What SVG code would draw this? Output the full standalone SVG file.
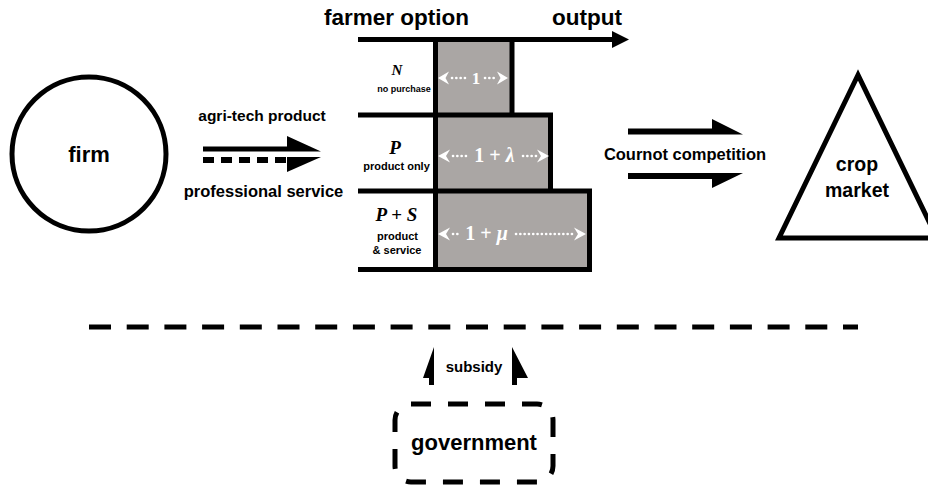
<svg xmlns="http://www.w3.org/2000/svg" width="928" height="485" viewBox="0 0 928 485">
  <style>
    .lbl { font-family: "Liberation Sans", Arial, sans-serif; font-weight: bold; fill: #000; text-anchor: middle; }
    .math { font-family: "Liberation Serif", "Times New Roman", serif; font-weight: bold; font-style: italic; fill: #000; text-anchor: middle; }
    .wmath { font-family: "Liberation Serif", "Times New Roman", serif; font-weight: bold; fill: #fff; text-anchor: middle; }
    .thick { fill: none; stroke: #000; stroke-width: 5; stroke-linejoin: miter; }
    .bar { fill: #aaa6a4; }
    .dots { fill: none; stroke: #fff; stroke-width: 2.6; stroke-linecap: round; stroke-dasharray: 0.1 4.2; }
    .whead { fill: #fff; }
    .ink { fill: #000; }
  </style>

  <!-- firm -->
  <g id="firm">
    <circle cx="89" cy="154" r="77" class="thick"/>
    <text x="89" y="162" class="lbl" font-size="22">firm</text>
  </g>

  <!-- farmer option chart -->
  <g id="farmer-options">
    <rect class="bar" x="435" y="39" width="77" height="76"/>
    <rect class="bar" x="435" y="115" width="115.5" height="76"/>
    <rect class="bar" x="435" y="191" width="154.5" height="78.5"/>

    <path class="thick" d="M358,39.5 H614"/>
    <polygon class="ink" points="612,31 629,39.5 612,48"/>
    <path class="thick" d="M435.5,37 V272"/>
    <path class="thick" d="M512,39.5 V115"/>
    <path class="thick" d="M358,115 H550.5 V191"/>
    <path class="thick" d="M358,191 H589.5 V269.5 H358"/>

    <text x="396.5" y="25" class="lbl" font-size="22.5">farmer option</text>
    <text x="587" y="25" class="lbl" font-size="22.5">output</text>

    <!-- N row -->
    <text x="397" y="75" class="math" font-size="15">N</text>
    <text x="404" y="92" class="lbl" font-size="9">no purchase</text>
    <path class="whead" d="M438,78 L449,71.5 L445.5,78 L449,84.5 Z"/>
    <path class="dots" d="M452,78 H468"/>
    <text x="476" y="84" class="wmath" font-size="17">1</text>
    <path class="dots" d="M485,78 H497"/>
    <path class="whead" d="M508,78 L497,71.5 L500.5,78 L497,84.5 Z"/>

    <!-- P row -->
    <text x="395" y="154" class="math" font-size="19">P</text>
    <text x="396.5" y="170" class="lbl" font-size="11">product only</text>
    <path class="whead" d="M438,156 L450,149.5 L446,156 L450,162.5 Z"/>
    <path class="dots" d="M453,156 H467"/>
    <text x="494.5" y="162" class="wmath" font-size="20">1 + <tspan font-style="italic">λ</tspan></text>
    <path class="dots" d="M523,156 H536"/>
    <path class="whead" d="M549,156 L537,149.5 L541,156 L537,162.5 Z"/>

    <!-- P + S row -->
    <text x="396.5" y="221" class="math" font-size="19">P <tspan font-style="normal">+</tspan> S</text>
    <text x="397.5" y="240" class="lbl" font-size="11">product</text>
    <text x="397" y="254" class="lbl" font-size="11">&amp; service</text>
    <path class="whead" d="M438,234 L450,227.5 L446,234 L450,240.5 Z"/>
    <path class="dots" d="M453,234 H460"/>
    <text x="486.5" y="240" class="wmath" font-size="20">1 + <tspan font-style="italic">μ</tspan></text>
    <path class="dots" d="M516,234 H573"/>
    <path class="whead" d="M586,234 L574,227.5 L578,234 L574,240.5 Z"/>
  </g>

  <!-- crop market -->
  <g id="crop-market">
    <polygon points="858,75 779,238 937,238" class="thick"/>
    <text x="857" y="171" class="lbl" font-size="19.5">crop</text>
    <text x="857" y="197" class="lbl" font-size="19.5">market</text>
  </g>

  <!-- government -->
  <g id="government">
    <rect x="395" y="404" width="158" height="78" rx="16" ry="16" fill="none" stroke="#000" stroke-width="5" stroke-dasharray="20 17"/>
    <text x="474" y="450" class="lbl" font-size="22">government</text>
  </g>

  <!-- separator -->
  <g id="separator">
    <path d="M89,327 H858" fill="none" stroke="#000" stroke-width="5" stroke-dasharray="22 15.7"/>
  </g>

  <!-- connectors -->
  <g id="connectors">
    <!-- agri-tech product (solid) and professional service (dashed) -->
    <path class="ink" d="M203,146.5 L287,146.5 L287,136 L321,151.5 L203,151.5 Z"/>
    <path d="M203,160 H288" fill="none" stroke="#000" stroke-width="6" stroke-dasharray="11 7"/>
    <path class="ink" d="M287,157 L321,157 L287,172 Z"/>
    <text x="262" y="121" class="lbl" font-size="15.5">agri-tech product</text>
    <text x="263.5" y="197" class="lbl" font-size="16.5">professional service</text>

    <!-- Cournot competition -->
    <path class="ink" d="M628,128.5 L712,128.5 L712,119 L743,134.5 L628,134.5 Z"/>
    <path class="ink" d="M628,173 L743,173 L712,188 L712,179 L628,179 Z"/>
    <text x="685" y="160" class="lbl" font-size="16.5">Cournot competition</text>

    <!-- subsidy -->
    <path class="ink" d="M429,385 L429,378 L423,378 L434,347 L434,385 Z"/>
    <path class="ink" d="M512,347 L528,378 L517,378 L517,385 L512,385 Z"/>
    <text x="474" y="372" class="lbl" font-size="15">subsidy</text>
  </g>
</svg>
